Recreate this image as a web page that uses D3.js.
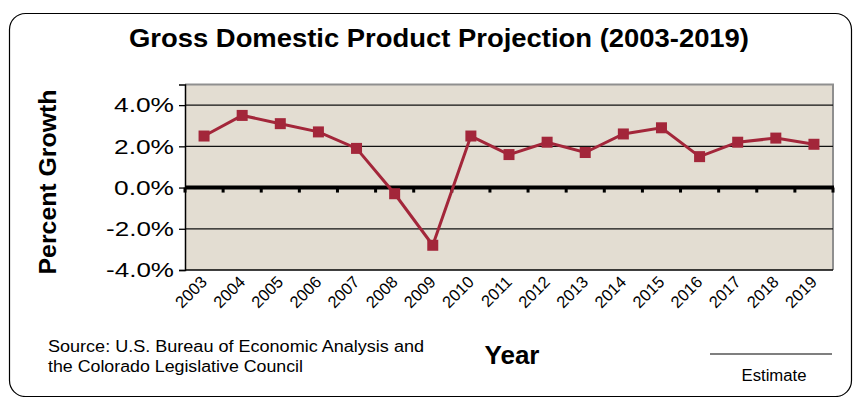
<!DOCTYPE html>
<html>
<head>
<meta charset="utf-8">
<script src="https://cdn.jsdelivr.net/npm/d3@7/dist/d3.min.js"></script>
<style>
  html, body { margin: 0; padding: 0; background: #fff; }
  svg { display: block; font-family: "Liberation Sans", Arial, sans-serif; }
</style>
</head>
<body>
<svg id="chart" width="856" height="397"></svg>
<script>
// Annual GDP growth, percent
const years = ["2003","2004","2005","2006","2007","2008","2009","2010","2011",
               "2012","2013","2014","2015","2016","2017","2018","2019"];
const growth = [2.5, 3.5, 3.1, 2.7, 1.9, -0.3, -2.8, 2.5, 1.6,
                2.2, 1.7, 2.6, 2.9, 1.5, 2.2, 2.4, 2.1];
const yTicks = [4, 2, 0, -2, -4];

const svg = d3.select("#chart");

// Rounded outer frame
svg.append("rect")
  .attr("x", 9.5).attr("y", 13.5)
  .attr("width", 842).attr("height", 383)
  .attr("rx", 16).attr("ry", 16)
  .attr("fill", "#fff").attr("stroke", "#000").attr("stroke-width", 1.2);

const plot = { left: 185, right: 833, top: 84.5, bottom: 270 };

const x = d3.scaleBand().domain(years).range([plot.left, plot.right]);
const y = d3.scaleLinear().domain([-4, 5]).range([plot.bottom, plot.top]);

// Plot background
svg.append("rect")
  .attr("x", plot.left).attr("y", plot.top)
  .attr("width", plot.right - plot.left).attr("height", plot.bottom - plot.top)
  .attr("fill", "#E3DDD2");

// Top and right border (grey)
svg.append("path")
  .attr("d", `M${plot.left},${plot.top}H${plot.right}V${plot.bottom}`)
  .attr("fill", "none").attr("stroke", "#8f8f8f").attr("stroke-width", 2);

// Horizontal gridlines
svg.append("g").selectAll("line")
  .data(yTicks.filter(t => t !== 0 && t !== -4))
  .join("line")
  .attr("x1", plot.left).attr("x2", plot.right)
  .attr("y1", d => y(d)).attr("y2", d => y(d))
  .attr("stroke", "#111").attr("stroke-width", 1.3);

// Y axis with percent labels
const yAxis = svg.append("g")
  .attr("transform", `translate(${plot.left},0)`)
  .call(d3.axisLeft(y).tickValues(yTicks).tickSize(6).tickPadding(5)
        .tickFormat(d => d.toFixed(1) + "%"));
yAxis.select(".domain").attr("stroke", "#000").attr("stroke-width", 1.5);
yAxis.selectAll(".tick line").attr("stroke", "#000").attr("stroke-width", 1.3);
yAxis.selectAll(".tick text")
  .attr("fill", "#000")
  .style("font-size", "21px")
  .attr("textLength", d => d < 0 ? 68 : 60)
  .attr("lengthAdjust", "spacingAndGlyphs");

// Bottom border line
svg.append("line")
  .attr("x1", plot.left).attr("x2", plot.right)
  .attr("y1", plot.bottom).attr("y2", plot.bottom)
  .attr("stroke", "#000").attr("stroke-width", 1.5);

// Zero line with tick marks at category boundaries
const edges = years.map(d => x(d)).concat([plot.right]);
svg.append("g").selectAll("rect")
  .data(edges)
  .join("rect")
  .attr("x", d => d - 1.5).attr("y", y(0))
  .attr("width", 3).attr("height", 5)
  .attr("fill", "#000");
svg.append("line")
  .attr("x1", plot.left).attr("x2", plot.right + 1)
  .attr("y1", y(0)).attr("y2", y(0))
  .attr("stroke", "#000").attr("stroke-width", 4);

// X tick labels, rotated
svg.append("g").selectAll("text")
  .data(years)
  .join("text")
  .attr("transform", d => `translate(${x(d) + x.bandwidth() / 2 + 4},${plot.bottom + 13}) rotate(-45)`)
  .attr("text-anchor", "end")
  .style("font-size", "16.5px")
  .attr("fill", "#000")
  .text(d => d);

// Growth line and markers
const color = "#A3263A";
const pts = years.map((d, i) => [x(d) + x.bandwidth() / 2, y(growth[i])]);
svg.append("path")
  .attr("d", d3.line()(pts))
  .attr("fill", "none").attr("stroke", color).attr("stroke-width", 3);
svg.append("g").selectAll("rect")
  .data(pts)
  .join("rect")
  .attr("x", d => d[0] - 5.5).attr("y", d => d[1] - 5.5)
  .attr("width", 11).attr("height", 11)
  .attr("fill", color);

// Title
svg.append("text")
  .attr("x", 439).attr("y", 47)
  .attr("text-anchor", "middle")
  .style("font-size", "26px").style("font-weight", "bold")
  .attr("textLength", 620).attr("lengthAdjust", "spacingAndGlyphs")
  .text("Gross Domestic Product Projection (2003-2019)");

// Y axis title
svg.append("text")
  .attr("transform", "translate(56,182) rotate(-90)")
  .attr("text-anchor", "middle")
  .style("font-size", "24px").style("font-weight", "bold")
  .attr("textLength", 185).attr("lengthAdjust", "spacingAndGlyphs")
  .text("Percent Growth");

// X axis title
svg.append("text")
  .attr("x", 512).attr("y", 364)
  .attr("text-anchor", "middle")
  .style("font-size", "26px").style("font-weight", "bold")
  .text("Year");

// Source note
const src = svg.append("text").style("font-size", "16px").attr("fill", "#000");
src.append("tspan").attr("x", 48).attr("y", 352)
  .attr("textLength", 376).attr("lengthAdjust", "spacingAndGlyphs")
  .text("Source: U.S. Bureau of Economic Analysis and");
src.append("tspan").attr("x", 48).attr("y", 372)
  .attr("textLength", 255).attr("lengthAdjust", "spacingAndGlyphs")
  .text("the Colorado Legislative Council");

// Estimate legend
svg.append("line")
  .attr("x1", 710).attr("x2", 832).attr("y1", 354).attr("y2", 354)
  .attr("stroke", "#000").attr("stroke-width", 1.2);
svg.append("text")
  .attr("x", 774).attr("y", 381)
  .attr("text-anchor", "middle")
  .style("font-size", "16px")
  .attr("textLength", 65).attr("lengthAdjust", "spacingAndGlyphs")
  .text("Estimate");
</script>
</body>
</html>
